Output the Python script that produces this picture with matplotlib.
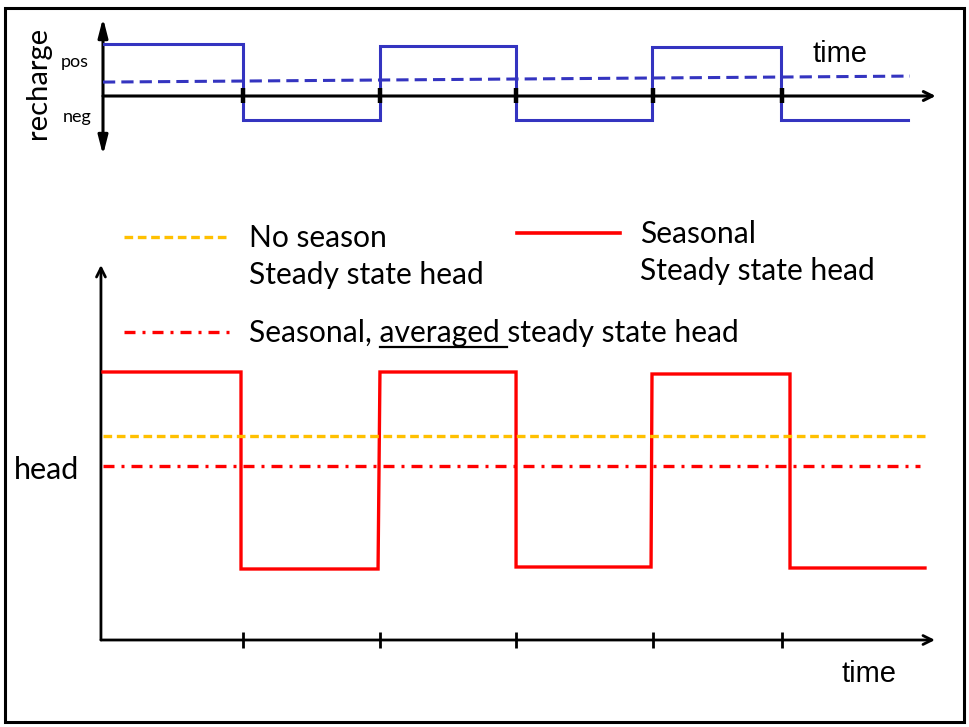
import matplotlib
matplotlib.use('Agg')
import matplotlib.pyplot as plt
from matplotlib.patches import Rectangle
from matplotlib.lines import Line2D
from matplotlib.font_manager import FontProperties

# ---------------- data (time in season units, relative recharge / head) -------------
season_ticks = [1.026, 2.029, 3.026, 4.029, 4.974]

recharge_t = [0.0, 1.026, 1.026, 2.029, 2.029, 3.026, 3.026, 4.022, 4.022, 4.967, 4.967, 5.897]
recharge_v = [2.17, 2.17, -1.0, -1.0, 2.08, 2.08, -1.0, -1.0, 2.04, 2.04, -1.0, -1.0]
avg_recharge_t = [0.0, 5.912]
avg_recharge_v = [0.58, 0.83]

head_t = [0.0, 1.011, 1.011, 2.015, 2.029, 3.026, 3.026, 4.015, 4.022, 5.033, 5.033, 6.022]
head_v = [2.68, 2.68, 0.71, 0.71, 2.68, 2.68, 0.73, 0.73, 2.66, 2.66, 0.72, 0.72]
noseason_t = [0.0, 6.022]
noseason_v = [2.04, 2.04]
avg_head_t = [0.0, 5.985]
avg_head_v = [1.74, 1.74]

legend_labels = ["No season\nSteady state head", "Seasonal\nSteady state head",
                 "Seasonal, ", "averaged ", "steady state head"]

BLUE = '#3434C0'
RED = '#FF0000'
ORANGE = '#FFC000'
DASH = (0, (2.6, 1.4))
DASHDOT = (0, (3.3, 2.1, 0.9, 2.1))
W, H = 969, 727

fig = plt.figure(figsize=(W / 100, H / 100), dpi=100)
fig.patch.set_facecolor('white')


def px_axes(x0, y0, x1, y1):
    ax = fig.add_axes([x0 / W, 1 - y1 / H, (x1 - x0) / W, (y1 - y0) / H])
    ax.set_axis_off()
    return ax


def T(x, y, s, **kw):
    return fig.text(x / W, 1 - y / H, s, **kw)


# frame
fig.add_artist(Rectangle((5 / W, 1 - 722 / H), (964 - 5) / W, (722 - 8) / H,
                         transform=fig.transFigure, fill=False, lw=2.2, ec='black'))

# ---------------- top panel: recharge ----------------
ax1 = px_axes(103, 10, 950, 165)
ax1.set_xlim(0, 847 / 136.5)
ax1.set_ylim(-69 / 24, 86 / 24)
ax1.plot(recharge_t, recharge_v, color=BLUE, lw=2.2, solid_joinstyle='miter', zorder=3)
ax1.plot(avg_recharge_t, avg_recharge_v, color=BLUE, lw=2.2, ls=(0, (4, 2)), zorder=3)
ax1.annotate('', xy=(6.10, 0), xytext=(0, 0), annotation_clip=False,
             arrowprops=dict(arrowstyle='->', lw=2.2, color='black', shrinkA=0, shrinkB=0,
                             mutation_scale=16), zorder=2)
ax1.annotate('', xy=(0, 3.25), xytext=(0, -2.46), annotation_clip=False,
             arrowprops=dict(arrowstyle='<|-|>,head_width=0.18,head_length=0.7', lw=2.2,
                             color='black', shrinkA=0, shrinkB=0, mutation_scale=16), zorder=2)
for t in season_ticks:
    ax1.plot([t, t], [0.33, -0.29], color='black', lw=3.2, solid_capstyle='butt', zorder=4)

T(840, 62, 'time', fontsize=21, family='Liberation Sans', ha='center', va='baseline')
T(75, 62, 'pos', fontsize=13, family='Lato', ha='center', va='center')
T(77, 117, 'neg', fontsize=13, family='Lato', ha='center', va='center')
T(38, 83, 'recharge', fontsize=21, family='Lato', rotation=90, ha='center', va='center')

# ---------------- bottom panel: head ----------------
ax2 = px_axes(95, 250, 950, 660)
ax2.set_xlim(-8 / 136.5, 847 / 136.5)
ax2.set_ylim(-0.2, 3.9)
ax2.plot(head_t, head_v, color=RED, lw=2.4, solid_joinstyle='miter', zorder=3)
ax2.plot(noseason_t, noseason_v, color=ORANGE, lw=2.4, ls=DASH, zorder=3)
ax2.plot(avg_head_t, avg_head_v, color=RED, lw=2.4, ls=DASHDOT, zorder=3)
ax2.annotate('', xy=(6.095, 0), xytext=(-0.015, 0), annotation_clip=False,
             arrowprops=dict(arrowstyle='->', lw=2.0, color='black', shrinkA=0, shrinkB=0,
                             mutation_scale=16), zorder=2)
ax2.annotate('', xy=(-0.015, 3.75), xytext=(-0.015, 0), annotation_clip=False,
             arrowprops=dict(arrowstyle='->', lw=2.0, color='black', shrinkA=0, shrinkB=0,
                             mutation_scale=16), zorder=2)
for t in season_ticks:
    ax2.plot([t, t], [0.08, -0.08], color='black', lw=2.0, solid_capstyle='butt', zorder=4)

T(869, 682, 'time', fontsize=21, family='Liberation Sans', ha='center', va='baseline')
T(14, 479, 'head', fontsize=22, family='Lato', ha='left', va='baseline')

# ---------------- legend ----------------
LFS = 21.6
fig.add_artist(Line2D([124 / W, 229 / W], [1 - 237 / H, 1 - 237 / H], transform=fig.transFigure,
                      color=ORANGE, lw=2.4, ls=DASH))
fig.add_artist(Line2D([517 / W, 620 / W], [1 - 233 / H, 1 - 233 / H], transform=fig.transFigure,
                      color=RED, lw=2.6))
fig.add_artist(Line2D([124 / W, 232 / W], [1 - 332 / H, 1 - 332 / H], transform=fig.transFigure,
                      color=RED, lw=2.4, ls=DASHDOT))

l1a, l1b = legend_labels[0].split('\n')
T(249, 247, l1a, fontsize=LFS, family='Lato', va='baseline')
T(249, 284, l1b, fontsize=LFS, family='Lato', va='baseline')
l2a, l2b = legend_labels[1].split('\n')
T(640, 243, l2a, fontsize=LFS, family='Lato', va='baseline')
T(640, 280, l2b, fontsize=LFS, family='Lato', va='baseline')

full = ''.join(legend_labels[2:])
T(249, 342, full, fontsize=LFS, family='Lato', va='baseline')

renderer = fig.canvas.get_renderer()
fp = FontProperties(family='Lato', size=LFS)


def width(s):
    w, h, d = renderer.get_text_width_height_descent(s, fp, ismath=False)
    return w


xw = width('x')
u0 = 249 + width(legend_labels[2] + 'x') - xw
u1 = 249 + width(legend_labels[2] + legend_labels[3] + 'x') - xw
fig.add_artist(Line2D([u0 / W, u1 / W], [1 - 347 / H, 1 - 347 / H], transform=fig.transFigure,
                      color='black', lw=1.6))

fig.savefig('out.png', dpi=100)
